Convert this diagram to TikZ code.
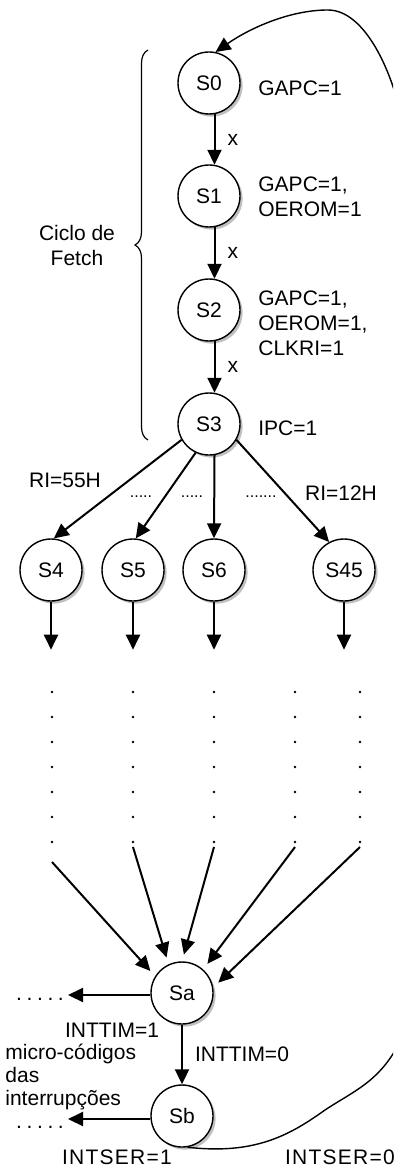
\documentclass[tikz,border=0pt]{standalone}
\usepackage{fontspec}
\setmainfont{Liberation Sans}
\usetikzlibrary{arrows.meta,positioning,shadows,decorations.pathreplacing}
\tikzset{
  fchstate/.style={
    circle,
    draw,
    line width=0.7pt,
    fill=white,
    minimum size=31pt,
    inner sep=0pt,
    font=\fontsize{10.5}{12}\selectfont,
    drop shadow={shadow xshift=1.3pt,shadow yshift=-1.3pt,fill=black!55,opacity=0.45}
  },
  fchflow/.style={-{Triangle[length=7.5pt,width=7pt]},line width=1pt},
  fchloop/.style={-{Triangle[length=7.5pt,width=7pt]},line width=0.7pt},
  fchlabel/.style={font=\fontsize{10.5}{12.5}\selectfont,align=left,inner sep=0pt},
  fchgap/.style={font=\fontsize{8}{9}\selectfont,inner sep=0pt},
  fchdots/.style={line width=1.4pt,line cap=round,dash pattern=on 0pt off 12.5pt},
  fchbrace/.style={decorate,decoration={brace,amplitude=6.5pt},line width=0.6pt}
}
\newcommand{\fchleft}{.\kern2.3pt.\kern2.3pt.\kern2.3pt.\kern2.3pt.}

\begin{document}
\begin{tikzpicture}[x=0.5pt,y=-0.5pt]
  \clip (0,0) rectangle (393,1166);

  % fetch cycle
  \node[fchstate] (S0) at (209,83) {S0};
  \node[fchstate] (S1) at (209,196) {S1};
  \node[fchstate] (S2) at (209,310) {S2};
  \node[fchstate] (S3) at (209,424) {S3};

  \node[fchlabel,anchor=west] (l0) at (258,88) {GAPC=1};
  \node[fchlabel,anchor=west] (l1) at (258,197) {GAPC=1,\\OEROM=1};
  \node[fchlabel,anchor=west] (l2) at (258,323) {GAPC=1,\\OEROM=1,\\CLKRI=1};
  \node[fchlabel,anchor=west] (l3) at (258,428) {IPC=1};

  \draw[fchflow] (S0.-80) -- node[fchlabel,right=6pt] {x} (S1.80);
  \draw[fchflow] (S1.-80) -- node[fchlabel,right=6pt] {x} (S2.80);
  \draw[fchflow] (S2.-80) -- node[fchlabel,right=6pt] {x} (S3.80);

  \coordinate (bt) at (148,50);
  \coordinate (bb) at (148,440);
  \draw[fchbrace] (bb) -- (bt);
  \node[fchlabel,align=center] (cyc) at (77,245) {Ciclo de\\Fetch};

  % decode
  \node[fchstate] (S4) at (51,570) {S4};
  \node[fchstate] (S5) at (133,570) {S5};
  \node[fchstate] (S6) at (214,570) {S6};
  \node[fchstate] (S45) at (344,570) {S45};

  \draw[fchflow] (S3.210) -- (S4.85);
  \draw[fchflow] (S3.245) -- (S5.85);
  \draw[fchflow] (S3.-80) -- (S6.north);
  \draw[fchflow] (S3.-30) -- (S45.118);

  \node[fchlabel] (ri55) at (65,480) {RI=55H};
  \node[fchlabel] (ri12) at (341,493) {RI=12H};
  \node[fchgap] (g1) at (141,497) {.....};
  \node[fchgap] (g2) at (192,497) {.....};
  \node[fchgap] (g3) at (261,497) {.......};

  \foreach \s in {S4,S5,S6,S45}{
    \coordinate (e\s) at ([yshift=-24pt]\s.south);
    \draw[fchflow] (\s.south) -- (e\s);
  }

  % interrupts
  \node[fchstate] (Sa) at (182,993) {Sa};
  \node[fchstate] (Sb) at (182,1116) {Sb};

  \foreach \c/\x/\ys/\a in {1/52/862/148,2/133/847/115,3/214/847/90,4/295/847/48,5/360/847/10}{
    \coordinate (dt\c) at (\x,692);
    \coordinate (db\c) at (\x,843);
    \coordinate (dl\c) at (\x,\ys);
    \draw[fchdots] (dt\c) -- (db\c);
    \draw[fchflow,shorten >=3.5pt] (dl\c) -- (Sa.\a);
  }

  \coordinate (la) at (68,995);
  \coordinate (lb) at (68,1119);
  \draw[fchflow] (Sa.west |- la) -- (la);
  \draw[fchflow] (Sb.west |- lb) -- (lb);
  \node[fchlabel] (da) at (40,999) {\fchleft};
  \node[fchlabel] (db) at (40,1127) {\fchleft};

  \draw[fchflow] (Sa) -- node[fchlabel,right=6pt] {INTTIM=0} (Sb);

  \node[fchlabel] (it1) at (112,1030) {INTTIM=1};
  \node[fchlabel,anchor=west,font=\fontsize{10.5}{11.5}\selectfont] (mc) at (5,1077)
    {micro-códigos\\das\\interrupções};
  \node[fchlabel] (is1) at (117,1157) {\addfontfeatures{LetterSpace=6}INTSER=1};
  \node[fchlabel] (is0) at (340,1157) {\addfontfeatures{LetterSpace=6}INTSER=0};

  % back to S0
  \draw[fchloop] (Sb.-80) .. controls (255,1155) and (290,1135) .. (325,1110)
    .. controls (355,1090) and (385,1080) .. (405,1030)
    -- (405,140)
    .. controls (400,90) and (370,10) .. (328,10)
    .. controls (290,10) and (250,28) .. (S0.78);
\end{tikzpicture}
\end{document}
